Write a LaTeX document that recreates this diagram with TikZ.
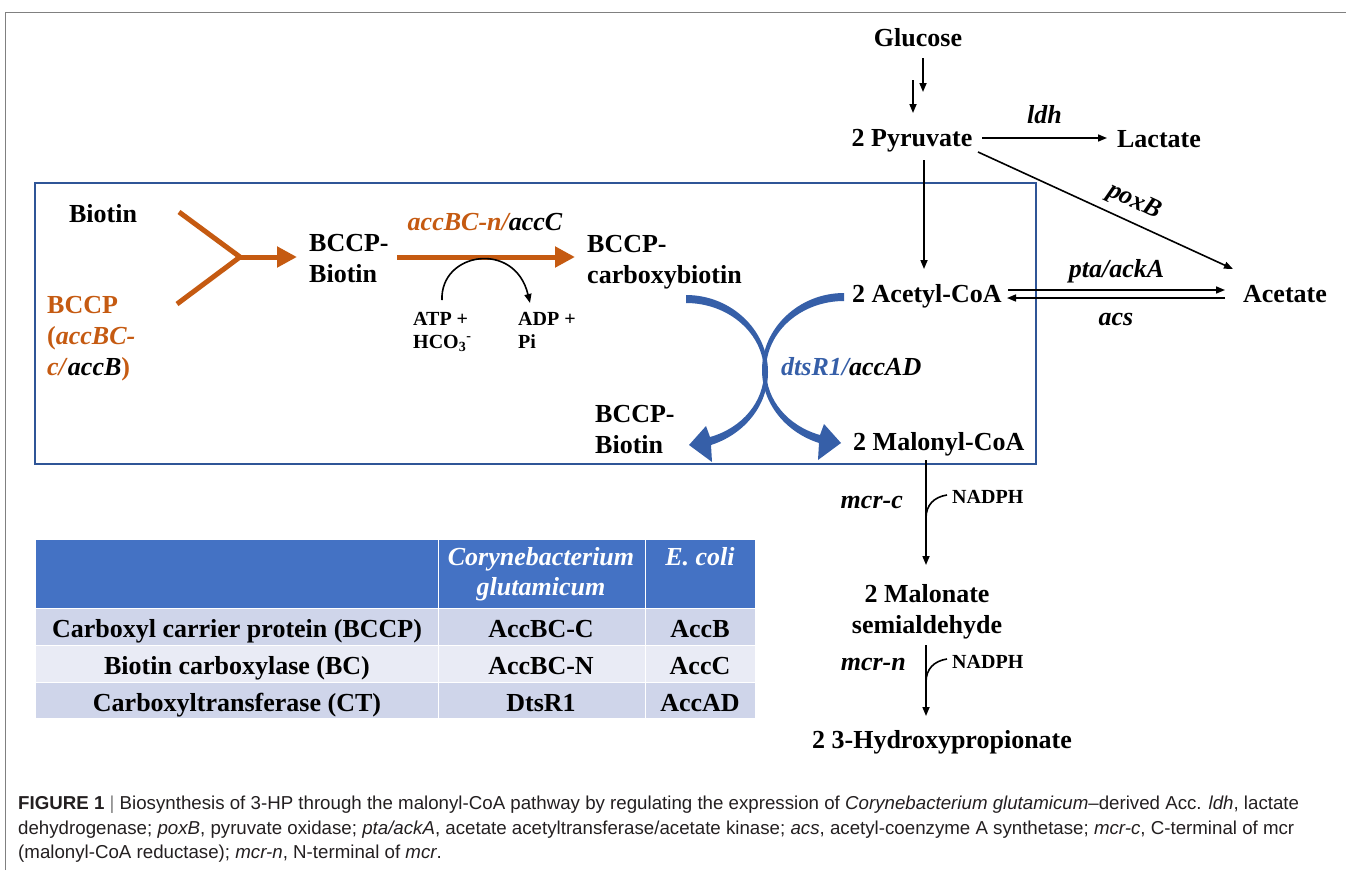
\documentclass[tikz,border=0pt]{standalone}
\usepackage{fontspec}
\setmainfont{Liberation Serif}
\newfontfamily\capfont{Liberation Sans}
\usetikzlibrary{arrows.meta}
\definecolor{orng}{HTML}{C55A11}
\definecolor{boxblue}{HTML}{2F5597}
\definecolor{arrblue}{HTML}{365FA8}
\definecolor{hdrblue}{HTML}{4472C4}
\definecolor{rowA}{HTML}{CFD5EA}
\definecolor{rowB}{HTML}{E9EBF5}
\definecolor{captxt}{HTML}{231F20}
\tikzset{
  lbl/.style={font=\fontsize{26}{31}\selectfont\bfseries, inner sep=0pt},
  sml/.style={font=\fontsize{20}{23}\selectfont\bfseries, inner sep=0pt},
  captiontext/.style={font=\capfont\fontsize{18.7}{22}\selectfont, text=captxt, inner sep=0pt, anchor=base west},
  blk/.style={line width=1.6pt, -{Triangle[length=9pt,width=7pt]}},
  thinline/.style={line width=1.6pt},
  orarr/.style={orng, line width=5pt, -{Triangle[length=20pt,width=20pt]}},
  orline/.style={orng, line width=5pt},
  bandfill/.style={fill=arrblue}
}
\begin{document}
\begin{tikzpicture}[x=1pt,y=-1pt]
\useasboundingbox (0,0) rectangle (1346,870);
% outer frame
\draw[gray, line width=1pt] (5,870) -- (5,12) -- (1346,12);
% blue box
\draw[boxblue, line width=2pt] (35,183) rectangle (1036,464);

% ---- right pathway nodes
\node[lbl, anchor=base] (glu) at (918,46) {Glucose};
\node[lbl, anchor=base] (pyr) at (912,146) {2 Pyruvate};
\node[lbl, anchor=base] (lac) at (1159,147) {Lactate};
\node[lbl, anchor=base west] (acoa) at (852,302) {2 Acetyl-CoA};
\node[lbl, anchor=base] (acet) at (1285,302) {Acetate};
\node[lbl, anchor=base west] (mcoa) at (853,450) {2 Malonyl-CoA};
\node[lbl, anchor=base, align=center] (msa) at (927,633) {2 Malonate\\semialdehyde};
\node[lbl, anchor=base] (hp) at (942,748) {2 3-Hydroxypropionate};
\node[sml, anchor=base west] (nad1) at (952,503) {NADPH};
\node[sml, anchor=base west] (nad2) at (952,668) {NADPH};
\node[lbl, anchor=base east] (mcrc) at (903,508) {\itshape mcr-c};
\node[lbl, anchor=base east] (mcrn) at (906,670) {\itshape mcr-n};
\node[lbl, rotate=-24.6] (poxb) at (1134,202) {\itshape poxB};

% coordinates for connectors
\coordinate (gA1) at (923,58);  \coordinate (gA2) at (923,92);
\coordinate (gB1) at (913,80);  \coordinate (gB2) at (913,113);
\coordinate (py1) at (924,160); \coordinate (ac1) at (924,269);
\coordinate (ld1) at (982,138); \coordinate (ld2) at (1107,138);
\coordinate (px1) at (978,152); \coordinate (px2) at (1233,269);
\coordinate (eqL1) at (1008,290); \coordinate (eqR1) at (1225,290);
\coordinate (eqR2) at (1225,298); \coordinate (eqL2) at (1007,298);
\coordinate (m1) at (926,460); \coordinate (m2) at (926,565);
\coordinate (n1) at (947,495); \coordinate (n1j) at (926,518);
\coordinate (s1) at (926,645); \coordinate (s2) at (926,716);
\coordinate (n2) at (947,659); \coordinate (n2j) at (926,682);

\draw[blk] (gA1) -- (gA2);
\draw[blk] (gB1) -- (gB2);
\draw[blk] (py1) -- (ac1);
\draw[blk] (ld1) -- node[lbl, above=13pt] (ldh) {\itshape ldh} (ld2);
\draw[blk] (px1) -- (px2);
\draw[blk] (eqL1) -- node[lbl, above=6pt] (pta) {\itshape pta/ackA} (eqR1);
\draw[blk] (eqR2) -- node[lbl, below=14pt] (acs) {\itshape acs} (eqL2);
\draw[blk] (m1) -- (m2);
\draw[thinline] (n1) .. controls (934,497) and (926,505) .. (n1j);
\draw[blk] (s1) -- (s2);
\draw[thinline] (n2) .. controls (934,661) and (926,669) .. (n2j);

% ---- box content
\node[lbl, anchor=base] (bio) at (103,222) {Biotin};
\node[lbl, anchor=base west, align=left, text=orng] (bccp) at (47,375)
  {BCCP\\(\textit{accBC-}\\\textit{c/}\textcolor{black}{\textit{accB}})};
\node[lbl, anchor=base west, align=left] (bb1) at (309,282) {BCCP-\\Biotin};
\node[lbl, anchor=base west, align=left] (cb) at (587,283) {BCCP-\\carboxybiotin};
\node[lbl, anchor=base west, align=left] (bb2) at (595,453) {BCCP-\\Biotin};
\node[lbl, anchor=base] (accbc) at (485,230) {\itshape\textcolor{orng}{accBC-n/}accC};
\node[sml, anchor=base west, align=left] (atp) at (413,348) {ATP +\\HCO\textsubscript{3}\textsuperscript{-}};
\node[sml, anchor=base west, align=left] (adp) at (518,348) {ADP +\\Pi};
\node[lbl, anchor=base west] (dts) at (781,375) {\itshape\textcolor{arrblue}{dtsR1/}accAD};

% Y shape
\coordinate (yu) at (179,212); \coordinate (yl) at (177,304);
\coordinate (yj) at (240,257); \coordinate (yt) at (297,257);
\draw[orline, line join=miter] (yu) -- (yj) -- (yl);
\draw[orarr] (yj) -- (yt);
\coordinate (o1) at (397,257); \coordinate (o2) at (575,257);
\draw[orarr] (o1) -- (o2);
% ATP arc
\coordinate (at1) at (442,300); \coordinate (at2) at (530,303);
\draw[blk] (at1) .. controls (440,252) and (515,240) .. (at2);

% blue curved arrows (tapered bands)
\fill[bandfill] (686,295) .. controls (731,295) and (768,330) .. (768,372)
  .. controls (768,405) and (745,434) .. (711,445)
  -- (712,462) -- (689,445) -- (706,426) -- (710,437)
  .. controls (742,428) and (764,402) .. (764,372)
  .. controls (764,334) and (729,303) .. (686,303) -- cycle;
\fill[bandfill] (844,293) .. controls (799,293) and (762,328) .. (762,370)
  .. controls (762,403) and (785,432) .. (819,443)
  -- (818,460) -- (841,443) -- (824,424) -- (820,435)
  .. controls (788,426) and (766,400) .. (766,370)
  .. controls (766,332) and (801,301) .. (844,301) -- cycle;

% ---- table
\fill[hdrblue] (36,540) rectangle (755,608);
\fill[rowA] (36,608) rectangle (755,645);
\fill[rowB] (36,645) rectangle (755,682);
\fill[rowA] (36,682) rectangle (755,718);
\draw[white, line width=1pt] (438,540) -- (438,718) (645,540) -- (645,718)
  (36,608) -- (755,608) (36,645) -- (755,645) (36,682) -- (755,682);
\node[lbl, anchor=base, align=center, text=white, font=\fontsize{26}{30}\selectfont\bfseries\itshape] (th1) at (541,595) {Corynebacterium\\glutamicum};
\node[lbl, anchor=base, text=white, font=\fontsize{26}{30}\selectfont\bfseries\itshape] (th2) at (700,565) {E. coli};
\node[lbl, anchor=base] (r1a) at (237,637) {Carboxyl carrier protein (BCCP)};
\node[lbl, anchor=base] (r1b) at (541,637) {AccBC-C};
\node[lbl, anchor=base] (r1c) at (700,637) {AccB};
\node[lbl, anchor=base] (r2a) at (237,674) {Biotin carboxylase (BC)};
\node[lbl, anchor=base] (r2b) at (541,674) {AccBC-N};
\node[lbl, anchor=base] (r2c) at (700,674) {AccC};
\node[lbl, anchor=base] (r3a) at (237,711) {Carboxyltransferase (CT)};
\node[lbl, anchor=base] (r3b) at (541,711) {DtsR1};
\node[lbl, anchor=base] (r3c) at (700,711) {AccAD};

% ---- caption
\node[captiontext] (c1) at (18,809) {\textbf{FIGURE 1} \textcolor{gray}{|} Biosynthesis of 3-HP through the malonyl-CoA pathway by regulating the expression of \textit{Corynebacterium glutamicum}–derived Acc. \textit{ldh}, lactate};
\node[captiontext] (c2) at (18,834) {dehydrogenase; \textit{poxB}, pyruvate oxidase; \textit{pta/ackA}, acetate acetyltransferase/acetate kinase; \textit{acs}, acetyl-coenzyme A synthetase; \textit{mcr-c}, C-terminal of mcr};
\node[captiontext] (c3) at (18,858) {(malonyl-CoA reductase); \textit{mcr-n}, N-terminal of \textit{mcr}.};
\end{tikzpicture}
\end{document}
